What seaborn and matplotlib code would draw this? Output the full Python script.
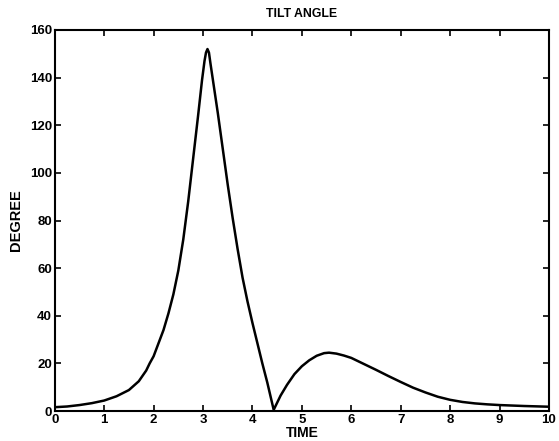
import numpy as np
import pandas as pd
import seaborn as sns
import matplotlib
matplotlib.use("Agg")
import matplotlib.pyplot as plt

# values
time = [0.0, 0.25, 0.5, 0.75, 1.0, 1.25, 1.5, 1.7, 1.85, 1.92, 2.0, 2.1, 2.2,
        2.3, 2.4, 2.5, 2.6, 2.7, 2.8, 2.9, 2.98, 3.03, 3.06, 3.09, 3.12, 3.15,
        3.2, 3.3, 3.4, 3.5, 3.6, 3.7, 3.8, 3.9, 4.0, 4.1, 4.2, 4.3, 4.43,
        4.5, 4.57, 4.7, 4.85, 5.0, 5.15, 5.3, 5.45, 5.55,
        5.7, 5.85, 6.0, 6.25, 6.5, 6.75, 7.0, 7.25, 7.5, 7.75, 8.0, 8.25,
        8.5, 8.75, 9.0, 9.5, 10.0]
degree = [1.6, 1.9, 2.5, 3.3, 4.4, 6.2, 8.8, 12.5, 17.0, 20.0, 23.0, 28.5, 34.0,
          41.0, 49.0, 59.0, 72.0, 88.0, 106.0, 124.0, 139.0, 147.0, 150.5, 152.0, 150.5, 146.0,
          139.0, 125.0, 110.0, 95.0, 81.0, 68.0, 56.0, 46.0, 37.0, 28.5, 20.0, 12.0, 0.5,
          3.5, 6.5, 11.0, 15.5, 18.8, 21.3, 23.2, 24.3, 24.5,
          24.1, 23.3, 22.3, 19.8, 17.3, 14.7, 12.2, 9.8, 7.8, 6.0, 4.7, 3.8,
          3.2, 2.8, 2.5, 2.1, 1.8]

xticks = [0, 1, 2, 3, 4, 5, 6, 7, 8, 9, 10]
yticks = [0, 20, 40, 60, 80, 100, 120, 140, 160]

df = pd.DataFrame({"TIME": time, "DEGREE": degree})

sns.set_style("ticks")
plt.rcParams["font.family"] = ["Liberation Sans", "DejaVu Sans"]
plt.rcParams["font.weight"] = "bold"
plt.rcParams["text.color"] = "black"
plt.rcParams["axes.labelcolor"] = "black"

fig = plt.figure(figsize=(5.59, 4.41), dpi=100)
ax = fig.add_axes([0.098, 0.068, 0.884, 0.864])

sns.lineplot(data=df, x="TIME", y="DEGREE", color="black", linewidth=1.8, ax=ax)

ax.set_xlim(0, 10)
ax.set_ylim(0, 160)
ax.set_xticks(xticks)
ax.set_yticks(yticks)
ax.tick_params(direction="in", top=True, right=True, length=4, width=1.2,
               labelsize=9.5, pad=2, colors="black")
for lab in ax.get_xticklabels() + ax.get_yticklabels():
    lab.set_fontweight("bold")
for sp in ax.spines.values():
    sp.set_linewidth(1.5)
    sp.set_color("black")

ax.set_title("TILT ANGLE", fontsize=8.8, fontweight="bold", pad=9, color="black")
ax.set_xlabel("TIME", fontsize=10, fontweight="bold", labelpad=0, color="black")
ax.set_ylabel("DEGREE", fontsize=10.5, fontweight="bold", labelpad=5, color="black")

fig.savefig("out.png", dpi=100)
